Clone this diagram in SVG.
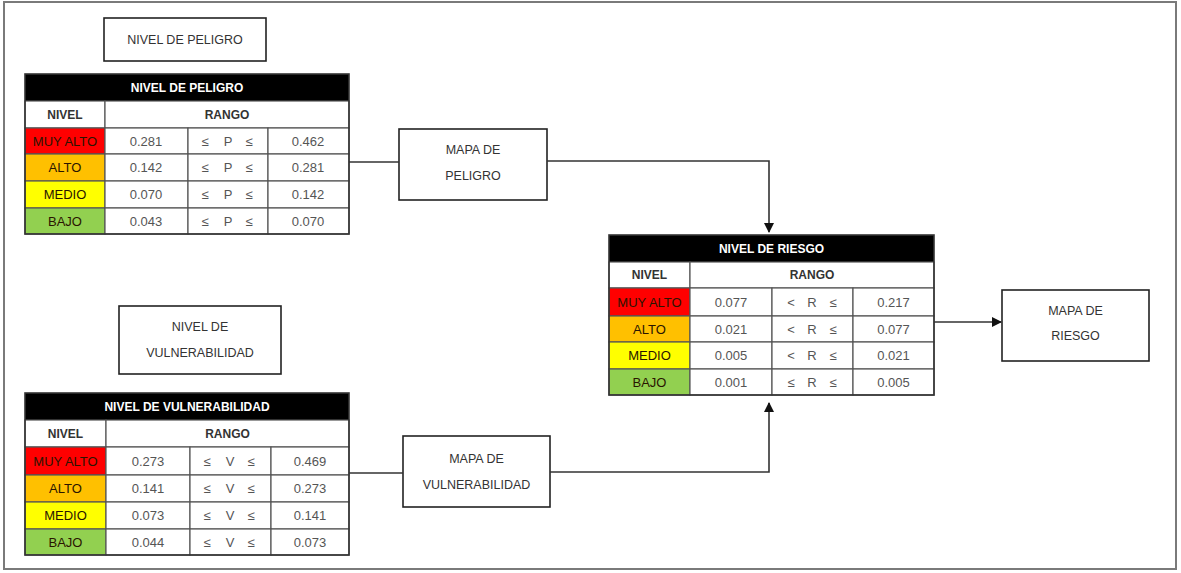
<svg xmlns="http://www.w3.org/2000/svg" width="1181" height="573" viewBox="0 0 1181 573">
<style>
.frame{fill:#fff;stroke:#7a7a7a;stroke-width:2}
.box{fill:#fff;stroke:#222;stroke-width:1.6}
.hdr{fill:#000}
.cell{fill:#fff;stroke:#555;stroke-width:1.2}
.outer{fill:none;stroke:#333;stroke-width:1.6}
.lbl{font-family:"Liberation Sans",Arial,sans-serif;font-size:12.5px;fill:#333;text-anchor:middle}
.ht{font-family:"Liberation Sans",Arial,sans-serif;font-size:12px;font-weight:bold;fill:#fff;text-anchor:middle}
.hd{font-family:"Liberation Sans",Arial,sans-serif;font-size:12px;font-weight:bold;fill:#333;text-anchor:middle}
.t{font-family:"Liberation Sans",Arial,sans-serif;font-size:13px;fill:#555;text-anchor:middle}
.lv{font-family:"Liberation Sans",Arial,sans-serif;font-size:13px;fill:#2a1500;text-anchor:middle}
.con{fill:none;stroke:#333;stroke-width:1.6}
</style>
<defs>
<marker id="ah" markerWidth="10" markerHeight="10" refX="9" refY="5" orient="auto" markerUnits="userSpaceOnUse">
<path d="M0,0 L10,5 L0,10 Z" fill="#111"/>
</marker>
</defs>
<rect class="frame" x="4" y="2" width="1172" height="567"/>

<g id="label-peligro">
<rect class="box" x="104" y="18" width="162" height="43"/>
<text class="lbl" x="185" y="44">NIVEL DE PELIGRO</text>
</g>

<g id="tabla-peligro">
<rect class="hdr" x="25" y="74" width="324" height="27"/>
<text class="ht" x="187" y="92">NIVEL DE PELIGRO</text>
<rect class="cell" x="25" y="101" width="80" height="27"/>
<rect class="cell" x="105" y="101" width="244" height="27"/>
<text class="hd" x="65" y="119">NIVEL</text>
<text class="hd" x="227" y="119">RANGO</text>
<rect class="cell" x="25" y="128" width="80" height="26" style="fill:#ff0000"/>
<rect class="cell" x="25" y="154" width="80" height="27" style="fill:#ffc000"/>
<rect class="cell" x="25" y="181" width="80" height="27" style="fill:#ffff00"/>
<rect class="cell" x="25" y="208" width="80" height="26" style="fill:#92d050"/>
<rect class="cell" x="105" y="128" width="83" height="26"/><rect class="cell" x="188" y="128" width="80" height="26"/><rect class="cell" x="268" y="128" width="81" height="26"/>
<rect class="cell" x="105" y="154" width="83" height="27"/><rect class="cell" x="188" y="154" width="80" height="27"/><rect class="cell" x="268" y="154" width="81" height="27"/>
<rect class="cell" x="105" y="181" width="83" height="27"/><rect class="cell" x="188" y="181" width="80" height="27"/><rect class="cell" x="268" y="181" width="81" height="27"/>
<rect class="cell" x="105" y="208" width="83" height="26"/><rect class="cell" x="188" y="208" width="80" height="26"/><rect class="cell" x="268" y="208" width="81" height="26"/>
<rect class="outer" x="25" y="74" width="324" height="160"/>
<text class="lv" x="65" y="146">MUY ALTO</text>
<text class="lv" x="65" y="172">ALTO</text>
<text class="lv" x="65" y="199">MEDIO</text>
<text class="lv" x="65" y="226">BAJO</text>
<text class="t" x="146" y="146">0.281</text><text class="t" y="146"><tspan x="205">≤</tspan><tspan x="228">P</tspan><tspan x="249">≤</tspan></text><text class="t" x="308" y="146">0.462</text>
<text class="t" x="146" y="172">0.142</text><text class="t" y="172"><tspan x="205">≤</tspan><tspan x="228">P</tspan><tspan x="249">≤</tspan></text><text class="t" x="308" y="172">0.281</text>
<text class="t" x="146" y="199">0.070</text><text class="t" y="199"><tspan x="205">≤</tspan><tspan x="228">P</tspan><tspan x="249">≤</tspan></text><text class="t" x="308" y="199">0.142</text>
<text class="t" x="146" y="226">0.043</text><text class="t" y="226"><tspan x="205">≤</tspan><tspan x="228">P</tspan><tspan x="249">≤</tspan></text><text class="t" x="308" y="226">0.070</text>
</g>

<g id="label-vulnerabilidad">
<rect class="box" x="119" y="306" width="162" height="68"/>
<text class="lbl" x="200" y="331">NIVEL DE</text>
<text class="lbl" x="200" y="357">VULNERABILIDAD</text>
</g>

<g id="tabla-vulnerabilidad">
<rect class="hdr" x="25" y="393" width="324" height="27"/>
<text class="ht" x="187" y="411">NIVEL DE VULNERABILIDAD</text>
<rect class="cell" x="25" y="420" width="81" height="27"/>
<rect class="cell" x="106" y="420" width="243" height="27"/>
<text class="hd" x="65.5" y="438">NIVEL</text>
<text class="hd" x="227.5" y="438">RANGO</text>
<rect class="cell" x="25" y="447" width="81" height="28" style="fill:#ff0000"/>
<rect class="cell" x="25" y="475" width="81" height="27" style="fill:#ffc000"/>
<rect class="cell" x="25" y="502" width="81" height="27" style="fill:#ffff00"/>
<rect class="cell" x="25" y="529" width="81" height="26" style="fill:#92d050"/>
<rect class="cell" x="106" y="447" width="84" height="28"/><rect class="cell" x="190" y="447" width="81" height="28"/><rect class="cell" x="271" y="447" width="78" height="28"/>
<rect class="cell" x="106" y="475" width="84" height="27"/><rect class="cell" x="190" y="475" width="81" height="27"/><rect class="cell" x="271" y="475" width="78" height="27"/>
<rect class="cell" x="106" y="502" width="84" height="27"/><rect class="cell" x="190" y="502" width="81" height="27"/><rect class="cell" x="271" y="502" width="78" height="27"/>
<rect class="cell" x="106" y="529" width="84" height="26"/><rect class="cell" x="190" y="529" width="81" height="26"/><rect class="cell" x="271" y="529" width="78" height="26"/>
<rect class="outer" x="25" y="393" width="324" height="162"/>
<text class="lv" x="65.5" y="466">MUY ALTO</text>
<text class="lv" x="65.5" y="493">ALTO</text>
<text class="lv" x="65.5" y="520">MEDIO</text>
<text class="lv" x="65.5" y="547">BAJO</text>
<text class="t" x="148" y="466">0.273</text><text class="t" y="466"><tspan x="207">≤</tspan><tspan x="230">V</tspan><tspan x="251">≤</tspan></text><text class="t" x="310" y="466">0.469</text>
<text class="t" x="148" y="493">0.141</text><text class="t" y="493"><tspan x="207">≤</tspan><tspan x="230">V</tspan><tspan x="251">≤</tspan></text><text class="t" x="310" y="493">0.273</text>
<text class="t" x="148" y="520">0.073</text><text class="t" y="520"><tspan x="207">≤</tspan><tspan x="230">V</tspan><tspan x="251">≤</tspan></text><text class="t" x="310" y="520">0.141</text>
<text class="t" x="148" y="547">0.044</text><text class="t" y="547"><tspan x="207">≤</tspan><tspan x="230">V</tspan><tspan x="251">≤</tspan></text><text class="t" x="310" y="547">0.073</text>
</g>

<g id="mapa-peligro">
<rect class="box" x="399" y="129" width="148" height="71"/>
<text class="lbl" x="473" y="154">MAPA DE</text>
<text class="lbl" x="473" y="180">PELIGRO</text>
</g>

<g id="mapa-vulnerabilidad">
<rect class="box" x="403" y="436" width="147" height="71"/>
<text class="lbl" x="476.5" y="463">MAPA DE</text>
<text class="lbl" x="476.5" y="489">VULNERABILIDAD</text>
</g>

<g id="tabla-riesgo">
<rect class="hdr" x="609" y="235" width="325" height="27"/>
<text class="ht" x="771.5" y="253">NIVEL DE RIESGO</text>
<rect class="cell" x="609" y="262" width="81" height="26"/>
<rect class="cell" x="690" y="262" width="244" height="26"/>
<text class="hd" x="649.5" y="279">NIVEL</text>
<text class="hd" x="812" y="279">RANGO</text>
<rect class="cell" x="609" y="288" width="81" height="28" style="fill:#ff0000"/>
<rect class="cell" x="609" y="316" width="81" height="26" style="fill:#ffc000"/>
<rect class="cell" x="609" y="342" width="81" height="27" style="fill:#ffff00"/>
<rect class="cell" x="609" y="369" width="81" height="26" style="fill:#92d050"/>
<rect class="cell" x="690" y="288" width="82" height="28"/><rect class="cell" x="772" y="288" width="81" height="28"/><rect class="cell" x="853" y="288" width="81" height="28"/>
<rect class="cell" x="690" y="316" width="82" height="26"/><rect class="cell" x="772" y="316" width="81" height="26"/><rect class="cell" x="853" y="316" width="81" height="26"/>
<rect class="cell" x="690" y="342" width="82" height="27"/><rect class="cell" x="772" y="342" width="81" height="27"/><rect class="cell" x="853" y="342" width="81" height="27"/>
<rect class="cell" x="690" y="369" width="82" height="26"/><rect class="cell" x="772" y="369" width="81" height="26"/><rect class="cell" x="853" y="369" width="81" height="26"/>
<rect class="outer" x="609" y="235" width="325" height="160"/>
<text class="lv" x="649.5" y="307">MUY ALTO</text>
<text class="lv" x="649.5" y="334">ALTO</text>
<text class="lv" x="649.5" y="360">MEDIO</text>
<text class="lv" x="649.5" y="387">BAJO</text>
<text class="t" x="731" y="307">0.077</text><text class="t" y="307"><tspan x="791">&lt;</tspan><tspan x="812">R</tspan><tspan x="833">≤</tspan></text><text class="t" x="893.5" y="307">0.217</text>
<text class="t" x="731" y="334">0.021</text><text class="t" y="334"><tspan x="791">&lt;</tspan><tspan x="812">R</tspan><tspan x="833">≤</tspan></text><text class="t" x="893.5" y="334">0.077</text>
<text class="t" x="731" y="360">0.005</text><text class="t" y="360"><tspan x="791">&lt;</tspan><tspan x="812">R</tspan><tspan x="833">≤</tspan></text><text class="t" x="893.5" y="360">0.021</text>
<text class="t" x="731" y="387">0.001</text><text class="t" y="387"><tspan x="791">≤</tspan><tspan x="812">R</tspan><tspan x="833">≤</tspan></text><text class="t" x="893.5" y="387">0.005</text>
</g>

<g id="mapa-riesgo">
<rect class="box" x="1002" y="290" width="147" height="71"/>
<text class="lbl" x="1075.5" y="315">MAPA DE</text>
<text class="lbl" x="1075.5" y="340">RIESGO</text>
</g>

<g id="connectors">
<path class="con" d="M349,162 L399,162"/>
<path class="con" d="M547,161 L769,161 L769,232" marker-end="url(#ah)"/>
<path class="con" d="M349,473 L403,473"/>
<path class="con" d="M550,472 L769,472 L769,403" marker-end="url(#ah)"/>
<path class="con" d="M934,322 L1001,322" marker-end="url(#ah)"/>
</g>
</svg>
